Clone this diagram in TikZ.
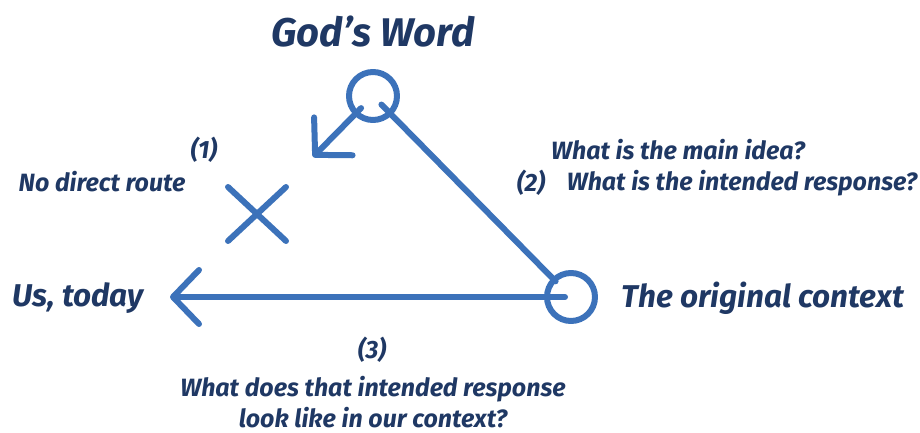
\documentclass[tikz,border=0pt]{standalone}
\usepackage{fontspec}
\setmainfont{Fira Sans}
\usetikzlibrary{arrows.meta,calc}

\definecolor{route}{HTML}{3c72ba}
\definecolor{ink}{HTML}{1f3864}

\begin{document}
\begin{tikzpicture}[
  x=1pt, y=-1pt,
  line cap=round, line join=round,
  every node/.style={text=ink, font=\bfseries\itshape, inner sep=0pt},
  title/.style={font=\fontsize{40}{44}\selectfont\bfseries\itshape},
  place/.style={font=\fontsize{31.5}{34}\selectfont\bfseries\itshape},
  note/.style={font=\fontsize{25}{31}\selectfont\bfseries\itshape, align=center},
  route/.style={draw=route, line width=6pt},
  ring/.style={circle, draw=route, line width=6pt, minimum size=48pt},
  hand/.style={-{Straight Barb[length=26pt, width=54pt, round]}},
]
\useasboundingbox (0,0) rectangle (920,433);

% the three corners
\node[title] (word) at (373,32) {God’s Word};
\node[place] (us) at (78,298) {Us, today};
\node[place] (context) at (763,298) {The original context};
\node[ring] (top) at (373,96) {};
\node[ring] (orig) at (571,297) {};

% routes
\coordinate (tip) at (313,157);
\coordinate (left) at (170,297);
\draw[route] ($(top.center)!12pt!(orig.center)$) -- ($(orig.center)!22pt!(top.center)$);
\draw[route, hand] ($(top.center)!17pt!(tip)$) -- (tip);
\draw[route, hand] ([xshift=-6pt]orig.center) -- (left);

% the cross
\coordinate (cross) at (257,214);
\draw[route] ($(cross)+(-29,-27)$) -- ($(cross)+(29,27)$);
\draw[route] ($(cross)+(29,-27)$) -- ($(cross)+(-29,27)$);

% questions
\node[note] (one) at (204,150) {(1)};
\node[note] (direct) at (102,182) {No direct route};
\node[note] (idea) at (678,150) {What is the main idea?};
\node[note] (two) at (531,183) {(2)};
\node[note] (response) at (742,183) {What is the intended response?};
\node[note] (three) at (372,350) {(3)};
\node[note] (ours) at (373,402) {What does that intended response\\look like in our context?};
\end{tikzpicture}
\end{document}
